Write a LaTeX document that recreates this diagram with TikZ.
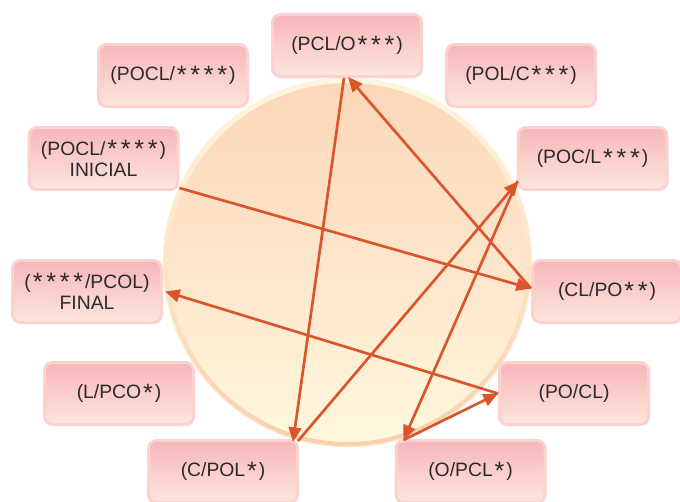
\documentclass[tikz,border=0pt]{standalone}
\usepackage{fontspec}
\setmainfont{Liberation Sans}
\usepackage{graphicx}
\usetikzlibrary{arrows.meta,calc}
\definecolor{arr}{HTML}{D9552B}
\definecolor{boxedge}{HTML}{FBD2CF}
\definecolor{boxtop}{HTML}{F7B6B9}
\definecolor{boxbot}{HTML}{FDE6DD}
\definecolor{txt}{HTML}{2A2A2A}
\definecolor{circtop}{HTML}{FCD7B8}
\definecolor{circmid}{HTML}{FDE5CB}
\definecolor{circbot}{HTML}{FFF8DD}
\definecolor{rimtop}{HTML}{FFF6E0}
\definecolor{rimbot}{HTML}{FAD0AC}
\newcommand\Ast{\makebox[0.7em]{\raisebox{-0.12em}{\scalebox{1.3}{*}}}}
\begin{document}
\begin{tikzpicture}[x=0.75pt,y=-0.75pt,
  box/.style={rectangle, rounded corners=6pt, draw=boxedge, line width=2.25pt,
    top color=boxtop, bottom color=boxbot, minimum width=111.75pt,
    minimum height=46.5pt, inner sep=0pt, align=center,
    font=\fontsize{14.5}{16}\selectfont, text=txt},
  link/.style={draw=arr, line width=2pt, -{Triangle[length=11pt,width=9.5pt]}},
]
\useasboundingbox (0,0) rectangle (680,501);
% circle
\shade[top color=circtop, bottom color=circbot, middle color=circmid]
  (347.5,262.5) circle[radius=138.4pt];
\shade[top color=rimtop, bottom color=rimbot, even odd rule]
  (347.5,262.5) circle[radius=138.4pt] (347.5,262.5) circle[radius=134.6pt];
\draw[rimtop, line width=0.8pt, opacity=0.6] (347.5,262.5) circle[radius=138pt];
% boxes
\node[box] (n_pocl) at (173,75.5) {(POCL/\Ast\Ast\Ast\Ast)};
\node[box] (n_pclo) at (347,45.5) {(PCL/O\Ast\Ast\Ast)};
\node[box] (n_polc) at (521,75.5) {(POL/C\Ast\Ast\Ast)};
\node[box] (n_ini) at (103.5,158.5) {(POCL/\Ast\Ast\Ast\Ast)\\INICIAL};
\node[box] (n_poc) at (592.5,158.5) {(POC/L\Ast\Ast\Ast)};
\node[box] (n_fin) at (87,291.5) {(\Ast\Ast\Ast\Ast/PCOL)\\FINAL};
\node[box] (n_clpo) at (607,291.5) {(CL/PO\Ast\Ast)};
\node[box] (n_l) at (119,393.5) {(L/PCO\Ast)};
\node[box] (n_po) at (574,393.5) {(PO/CL)};
\node[box] (n_c) at (223,471.5) {(C/POL\Ast)};
\node[box] (n_o) at (470.5,471.5) {(O/PCL\Ast)};
% connectors
\draw[link] ($(n_ini.south east)+(0,-3)$) -- ($(n_clpo.west)+(0,-3)$);
\draw[link] ($(n_clpo.west)+(0,-3)$) -- ($(n_pclo.south)+(1,-1)$);
\draw[link] ($(n_pclo.south)+(-3,0)$) -- ($(n_c.north east)+(-6,3)$);
\draw[link] ($(n_c.north east)+(-1,2)$) -- ($(n_poc.south west)+(2,-10)$);
\draw[link] ($(n_poc.south west)+(1,-10)$) -- ($(n_o.north west)+(9,1)$);
\draw[link] ($(n_o.north west)+(9,1)$) -- (n_po.west);
\draw[link] (n_po.west) -- ($(n_fin.east)+(2,0)$);
\end{tikzpicture}
\end{document}
